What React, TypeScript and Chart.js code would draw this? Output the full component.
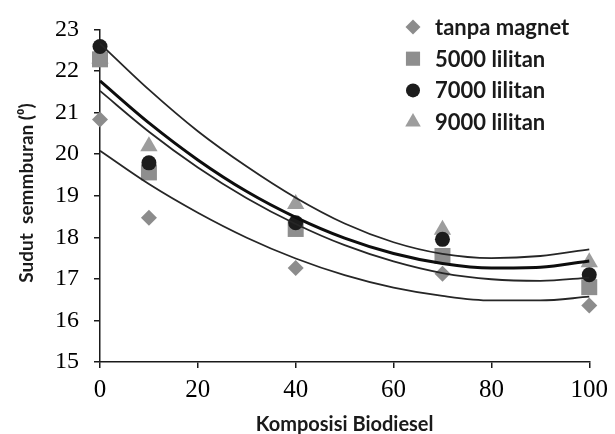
import React, { useEffect, useRef } from 'react';
import { Chart, registerables } from 'chart.js';
import { drawPoint } from 'chart.js/helpers';

Chart.register(...registerables);

// Measured points
const komposisi = [0, 10, 40, 70, 100];
const tanpaMagnet = [20.83, 18.47, 17.26, 17.12, 16.36];
const lilitan5000 = [22.28, 19.56, 18.2, 17.55, 16.8];
const lilitan7000 = [22.59, 19.79, 18.35, 17.95, 17.1];
const lilitan9000 = [22.3, 20.19, 18.8, 18.18, 17.4];

// Trend lines
const trendX = [0, 10, 20, 30, 40, 50, 60, 70, 80, 90, 100];
const trendTanpa = [20.08, 19.28, 18.59, 17.99, 17.49, 17.09, 16.79, 16.59, 16.48, 16.48, 16.57];
const trend5000 = [21.52, 20.54, 19.68, 18.94, 18.32, 17.81, 17.42, 17.14, 16.99, 16.95, 17.03];
const trend7000 = [21.76, 20.75, 19.86, 19.1, 18.48, 17.98, 17.61, 17.37, 17.26, 17.28, 17.43];
const trend9000 = [22.66, 21.55, 20.55, 19.7, 18.95, 18.33, 17.88, 17.6, 17.5, 17.55, 17.71];

const seriesLabels = ['tanpa magnet', '5000 lilitan', '7000 lilitan', '9000 lilitan'];
const xTitle = 'Komposisi Biodiesel';
const yTitle = 'Sudut  semmburan (\u2070)';

const toXY = (xs: number[], ys: number[]) => xs.map((x, i) => ({ x, y: ys[i] }));

const SANS = 'Lato, "Open Sans", sans-serif';
const SERIF = '"Liberation Serif", "DejaVu Serif", serif';

const legendPlugin = {
  id: 'customLegendTitles',
  afterDraw(chart: any) {
    const ctx = chart.ctx as CanvasRenderingContext2D;
    const area = chart.chartArea;
    const markers = chart.data.datasets.filter((d: any) => d.isMarker);
    markers.forEach((d: any, i: number) => {
      const y = 27 + i * 31.7;
      ctx.save();
      ctx.fillStyle = d.backgroundColor;
      ctx.strokeStyle = d.backgroundColor;
      ctx.lineWidth = 0;
      drawPoint(ctx, { pointStyle: d.pointStyle, radius: d.legendRadius, rotation: 0, borderWidth: 0 } as any, 413, y);
      ctx.fillStyle = '#1a1a1a';
      ctx.font = `bold 22px ${SANS}`;
      ctx.textBaseline = 'middle';
      ctx.textAlign = 'left';
      ctx.fillText(d.label, 435, y + 1);
      ctx.restore();
    });
    ctx.save();
    ctx.fillStyle = '#1a1a1a';
    ctx.font = `bold 20px ${SANS}`;
    ctx.textAlign = 'center';
    ctx.textBaseline = 'middle';
    ctx.fillText(xTitle, (area.left + area.right) / 2, 425);
    ctx.translate(27, 193);
    ctx.rotate(-Math.PI / 2);
    ctx.font = `bold 19px ${SANS}`;
    ctx.fillText(yTitle, 0, 0);
    ctx.restore();
  },
};

export default function App() {
  const ref = useRef<HTMLCanvasElement | null>(null);
  useEffect(() => {
    if (!ref.current) return;
    const markerGray = '#8c8c8c';
    const lineColor = '#262626';
    const trend = (label: string, ys: number[], color: string, width: number) => ({
      label: 'trend ' + label,
      data: toXY(trendX, ys),
      borderColor: color,
      borderWidth: width,
      pointRadius: 0,
      cubicInterpolationMode: 'monotone',
      clip: false,
      order: 0,
    });
    const marker = (
      label: string,
      ys: number[],
      style: string,
      radius: number,
      legendRadius: number,
      color: string,
      order: number
    ) => ({
      label,
      isMarker: true,
      legendRadius,
      data: toXY(komposisi, ys),
      showLine: false,
      pointStyle: style,
      pointRadius: radius,
      backgroundColor: color,
      borderColor: color,
      borderWidth: 0,
      clip: false,
      order,
    });
    const chart = new Chart(ref.current, {
      type: 'line',
      data: {
        datasets: [
          trend(seriesLabels[0], trendTanpa, lineColor, 1.8),
          trend(seriesLabels[1], trend5000, lineColor, 1.8),
          trend(seriesLabels[2], trend7000, '#0d0d0d', 3),
          trend(seriesLabels[3], trend9000, lineColor, 1.8),
          marker(seriesLabels[0], tanpaMagnet, 'rectRot', 8, 7.5, markerGray, 4),
          marker(seriesLabels[1], lilitan5000, 'rect', 11.3, 10, '#8e8e8e', 2),
          marker(seriesLabels[2], lilitan7000, 'circle', 7.5, 7, '#1c1c1c', 1),
          marker(seriesLabels[3], lilitan9000, 'triangle', 10, 9, '#9d9d9d', 3),
        ] as any,
      },
      options: {
        animation: false,
        responsive: false,
        devicePixelRatio: 1,
        layout: { padding: { left: 0, right: 21, top: 24, bottom: 0 } },
        plugins: {
          legend: { display: false },
          tooltip: { enabled: false },
        },
        scales: {
          x: {
            type: 'linear',
            min: 0,
            max: 100,
            ticks: {
              stepSize: 20,
              color: '#000',
              font: { family: SERIF, size: 25 },
              padding: 7,
              maxRotation: 0,
            },
            grid: {
              drawOnChartArea: false,
              drawTicks: true,
              tickLength: 6,
              color: '#1a1a1a',
              lineWidth: 1.5,
            },
            border: { display: true, color: '#1a1a1a', width: 1.5 },
            afterFit: (s: any) => {
              s.height = 72;
            },
          },
          y: {
            type: 'linear',
            min: 15,
            max: 23,
            ticks: {
              stepSize: 1,
              color: '#000',
              font: { family: SERIF, size: 24 },
              padding: 15,
            },
            grid: {
              drawOnChartArea: false,
              drawTicks: true,
              tickLength: 6,
              color: '#1a1a1a',
              lineWidth: 1.5,
            },
            border: { display: true, color: '#1a1a1a', width: 1.5 },
            afterFit: (s: any) => {
              s.width = 100;
            },
          },
        },
      },
      plugins: [legendPlugin],
    } as any);
    return () => chart.destroy();
  }, []);
  return (
    <div style={{ position: 'absolute', left: 0, top: 0, width: 615, height: 434, background: '#fff' }}>
      <canvas ref={ref} width={615} height={434} style={{ display: 'block' }} />
    </div>
  );
}
